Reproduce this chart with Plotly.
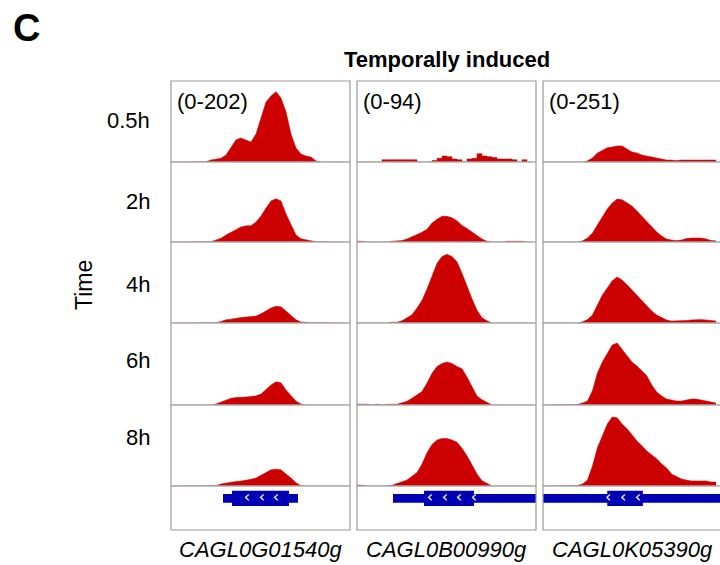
import plotly.graph_objects as go

W, H = 720, 565

# ---------------- data ----------------
times = ["0.5h", "2h", "4h", "6h", "8h"]
genes = ["CAGL0G01540g", "CAGL0B00990g", "CAGL0K05390g"]
data_ranges = [202, 94, 251]
bins = list(range(0, 180, 5))  # relative genomic bin positions within each locus window

# CAGL0G01540g coverage
g1_05h = [0, 0, 0, 0, 0, 0, 0, 1, 6, 9, 11, 20, 40, 63, 68, 63, 57, 80, 128, 171, 188, 200, 182, 143, 80, 40, 23, 17, 14, 3, 0, 0, 0, 0, 0, 0]
g1_2h = [0, 0, 0, 0, 0, 0, 0, 0, 1, 6, 11, 20, 28, 37, 43, 46, 46, 57, 74, 97, 117, 123, 117, 80, 48, 20, 9, 6, 3, 1, 1, 0, 1, 0, 0, 0]
g1_4h = [0, 0, 0, 0, 0, 0, 0, 0, 0, 1, 4, 9, 11, 14, 16, 17, 19, 20, 26, 34, 43, 48, 46, 34, 20, 9, 3, 1, 1, 1, 1, 0, 0, 0, 0, 0]
g1_6h = [0, 0, 0, 0, 0, 0, 0, 0, 0, 3, 9, 14, 19, 21, 23, 23, 24, 26, 31, 43, 57, 66, 63, 43, 26, 11, 3, 0, 0, 0, 0, 0, 1, 0, 0, 0]
g1_8h = [0, 0, 0, 0, 0, 0, 0, 0, 0, 1, 6, 9, 11, 13, 14, 16, 19, 23, 31, 37, 46, 48, 46, 34, 23, 9, 1, 0, 0, 0, 0, 0, 1, 0, 0, 0]

# CAGL0B00990g coverage
g2_05h = [0, 0, 0, 0, 0, 3, 3, 3, 3, 3, 3, 3, 0, 0, 0, 2, 5, 8, 7, 4, 3, 0, 4, 5, 11, 8, 7, 6, 4, 4, 4, 3, 0, 3, 0, 0]
g2_2h = [1, 1, 0, 0, 0, 0, 0, 1, 1, 2, 4, 7, 9, 13, 17, 25, 30, 34, 34, 32, 28, 22, 18, 13, 8, 4, 1, 0, 0, 0, 1, 1, 1, 1, 0, 0]
g2_4h = [0, 0, 0, 0, 0, 0, 0, 1, 1, 3, 7, 11, 20, 30, 45, 62, 79, 88, 91, 88, 81, 66, 48, 32, 17, 7, 3, 0, 0, 0, 0, 0, 0, 0, 0, 0]
g2_6h = [1, 1, 1, 0, 1, 0, 1, 1, 1, 3, 5, 9, 13, 18, 29, 42, 51, 55, 57, 55, 51, 48, 37, 24, 12, 7, 3, 0, 0, 0, 0, 0, 0, 0, 0, 0]
g2_8h = [1, 1, 0, 0, 0, 0, 0, 1, 3, 5, 8, 13, 18, 29, 44, 55, 61, 63, 63, 61, 58, 50, 40, 28, 16, 7, 3, 0, 0, 0, 0, 0, 0, 0, 0, 0]

# CAGL0K05390g coverage
g3_05h = [0, 0, 0, 0, 0, 0, 0, 0, 0, 4, 14, 32, 42, 50, 53, 57, 57, 46, 35, 32, 25, 21, 18, 14, 11, 7, 7, 5, 7, 7, 5, 7, 7, 5, 7, 7]
g3_2h = [0, 0, 0, 0, 0, 0, 0, 0, 4, 14, 32, 60, 92, 117, 138, 152, 149, 138, 127, 110, 92, 71, 53, 35, 21, 11, 7, 5, 7, 12, 14, 14, 14, 11, 5, 4]
g3_4h = [0, 0, 0, 0, 0, 0, 0, 0, 4, 12, 28, 64, 99, 124, 149, 163, 152, 135, 117, 96, 78, 60, 42, 28, 18, 11, 7, 7, 7, 9, 11, 12, 12, 11, 9, 7]
g3_6h = [0, 0, 0, 0, 0, 0, 0, 2, 7, 14, 50, 113, 152, 184, 212, 219, 198, 177, 152, 138, 120, 103, 71, 46, 32, 21, 18, 14, 14, 18, 21, 21, 18, 14, 11, 7]
g3_8h = [0, 0, 0, 0, 0, 0, 0, 2, 7, 21, 71, 135, 177, 219, 244, 241, 219, 202, 181, 159, 142, 124, 110, 96, 78, 64, 42, 32, 25, 21, 18, 18, 18, 18, 14, 14]

coverage = [
    [g1_05h, g1_2h, g1_4h, g1_6h, g1_8h],
    [g2_05h, g2_2h, g2_4h, g2_6h, g2_8h],
    [g3_05h, g3_2h, g3_4h, g3_6h, g3_8h],
]

# gene models (same relative coordinates as bins)
utr_start = [52, 36, 0]
utr_end = [127, 179, 179]
cds_start = [61, 67, 65]
cds_end = [118, 117, 101]
chevrons = [[76, 91, 105], [73, 88, 102, 117], [66, 81, 96]]

# ---------------- layout geometry (pixels) ----------------
col_left = [171, 357, 543]
col_w = 179
row_top = [81, 162, 242, 323, 405, 486]
row_bot = [162, 242, 323, 405, 486, 530]

RED = "#CC0000"
BLUE = "#0000B4"
GRID = "#ABABAB"
FONT = "Liberation Sans, Arial, sans-serif"


def px_x(x):
    return x / W


def px_y(y):
    return 1 - y / H


fig = go.Figure()
layout = {}
shapes = []
annotations = []

for c in range(3):
    for r in range(6):
        n = c * 6 + r + 1
        xa = "xaxis" if n == 1 else f"xaxis{n}"
        ya = "yaxis" if n == 1 else f"yaxis{n}"
        xr = "x" if n == 1 else f"x{n}"
        yr = "y" if n == 1 else f"y{n}"
        layout[xa] = dict(domain=[px_x(col_left[c]), min(1.0, px_x(col_left[c] + col_w))],
                          range=[0, col_w], visible=False, fixedrange=True, anchor=yr)
        if r < 5:
            yrange = [0, data_ranges[c] * (row_bot[r] - row_top[r]) / 71.0]
        else:
            yrange = [0, 1]
        layout[ya] = dict(domain=[px_y(row_bot[r]), px_y(row_top[r])],
                          range=yrange, visible=False, fixedrange=True, anchor=xr)
        if r < 5:
            vals = coverage[c][r]
            sparse = (c == 1 and r == 0)
            fig.add_trace(go.Scatter(
                x=bins, y=vals, xaxis=xr, yaxis=yr, mode="lines",
                line=dict(color=RED, width=0.5, shape="hv" if sparse else "linear"),
                fill="tozeroy", fillcolor=RED, showlegend=False, hoverinfo="skip"))
        else:
            # gene model: UTR/intergenic bar and thicker CDS block
            fig.add_trace(go.Scatter(
                x=[utr_start[c], utr_end[c], utr_end[c], utr_start[c], utr_start[c]],
                y=[0.62, 0.62, 0.82, 0.82, 0.62], xaxis=xr, yaxis=yr, mode="lines",
                line=dict(width=0, color=BLUE), fill="toself", fillcolor=BLUE,
                showlegend=False, hoverinfo="skip"))
            fig.add_trace(go.Scatter(
                x=[cds_start[c], cds_end[c], cds_end[c], cds_start[c], cds_start[c]],
                y=[0.545, 0.545, 0.89, 0.89, 0.545], xaxis=xr, yaxis=yr, mode="lines",
                line=dict(width=0, color=BLUE), fill="toself", fillcolor=BLUE,
                showlegend=False, hoverinfo="skip"))
            fig.add_trace(go.Scatter(
                x=chevrons[c], y=[0.72] * len(chevrons[c]), xaxis=xr, yaxis=yr,
                mode="text", text=["‹"] * len(chevrons[c]),
                textfont=dict(color="white", size=16, family="DejaVu Sans"),
                showlegend=False, hoverinfo="skip", cliponaxis=False))

    # row separators
    for r in range(5):
        shapes.append(dict(type="line", xref="paper", yref="paper",
                           x0=px_x(col_left[c]), x1=px_x(col_left[c] + col_w),
                           y0=px_y(row_bot[r]), y1=px_y(row_bot[r]),
                           line=dict(color=GRID, width=1.6), layer="above"))
    # column frame
    shapes.append(dict(type="rect", xref="paper", yref="paper",
                       x0=px_x(col_left[c]), x1=px_x(col_left[c] + col_w),
                       y0=px_y(row_bot[5]), y1=px_y(row_top[0]),
                       line=dict(color="#9A9A9A", width=1.2), layer="above"))
    # data range label
    annotations.append(dict(text=f"(0-{data_ranges[c]})", xref="paper", yref="paper",
                            x=px_x(col_left[c] + 4), y=px_y(101), xanchor="left", yanchor="middle",
                            showarrow=False, font=dict(size=22, color="black", family=FONT)))
    # gene label
    annotations.append(dict(text=f"<i>{genes[c]}</i>", xref="paper", yref="paper",
                            x=px_x(col_left[c] + col_w / 2), y=px_y(549), xanchor="center", yanchor="middle",
                            showarrow=False, font=dict(size=22, color="black", family=FONT)))

# row (time) labels
label_y = [120, 201, 284, 361, 437]
for t, yy in zip(times, label_y):
    annotations.append(dict(text=t, xref="paper", yref="paper", x=px_x(152), y=px_y(yy),
                            xanchor="right", yanchor="middle", showarrow=False,
                            font=dict(size=22, color="black", family=FONT)))

annotations.append(dict(text="Time", xref="paper", yref="paper", x=px_x(84), y=px_y(285),
                        xanchor="center", yanchor="middle", textangle=-90, showarrow=False,
                        font=dict(size=23, color="black", family=FONT)))
annotations.append(dict(text="<b>Temporally induced</b>", xref="paper", yref="paper",
                        x=px_x(447), y=px_y(60), xanchor="center", yanchor="middle", showarrow=False,
                        font=dict(size=22, color="black", family=FONT)))
annotations.append(dict(text="<b>C</b>", xref="paper", yref="paper",
                        x=px_x(11), y=px_y(28), xanchor="left", yanchor="middle", showarrow=False,
                        font=dict(size=38, color="black", family=FONT)))

fig.update_layout(
    width=W, height=H, margin=dict(l=0, r=0, t=0, b=0),
    paper_bgcolor="white", plot_bgcolor="white",
    shapes=shapes, annotations=annotations, showlegend=False,
    **layout)

fig.write_html("out.html")
